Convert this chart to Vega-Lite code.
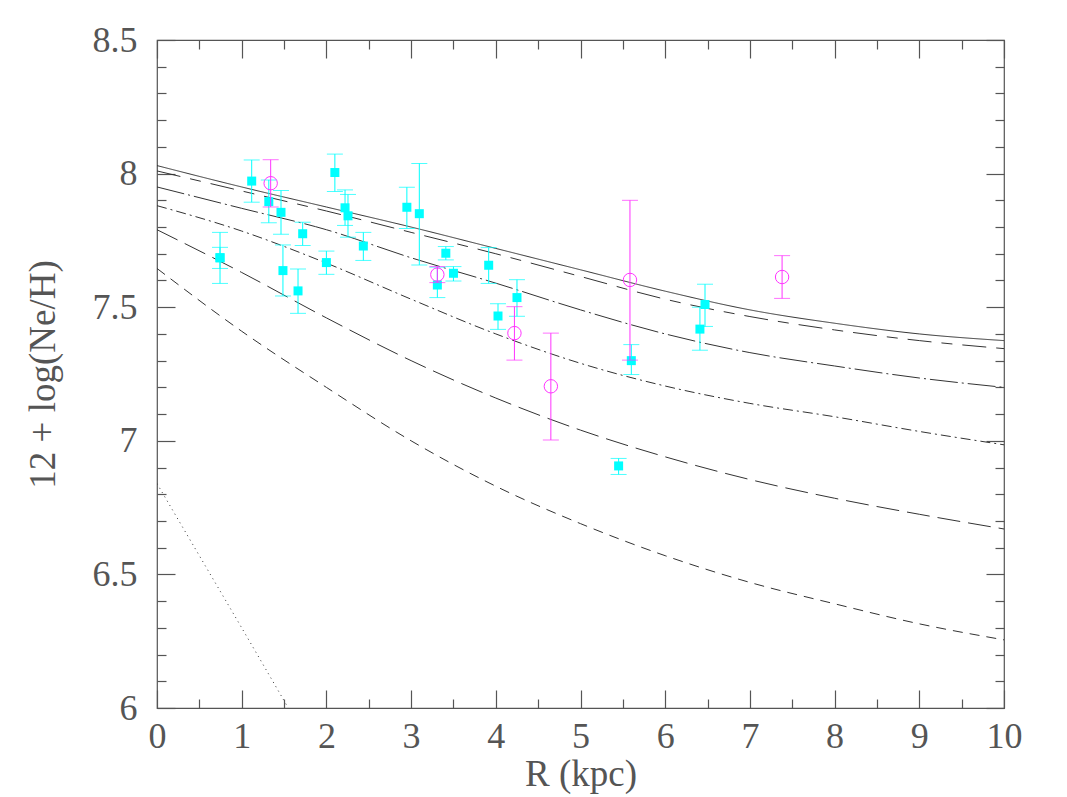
{
  "$schema": "https://vega.github.io/schema/vega-lite/v6.json",
  "width": 847,
  "height": 668,
  "autosize": {"type": "none"},
  "padding": {"left": 157, "top": 40, "right": 63, "bottom": 89},
  "background": "white",
  "config": {
    "view": {"stroke": "#555", "strokeWidth": 1.2},
    "axis": {
      "grid": false,
      "domain": false,
      "tickColor": "#555",
      "tickWidth": 1.2,
      "labelFlush": false,
      "labelOverlap": false,
      "labelFont": "Liberation Serif",
      "labelFontSize": 36,
      "labelColor": "#555",
      "titleFont": "Liberation Serif",
      "titleFontSize": 37,
      "titleFontWeight": "normal",
      "titleColor": "#555"
    }
  },
  "datasets": {
    "curves": [
      {"curve": "a", "R": 0, "v": 8.03}, {"curve": "a", "R": 1, "v": 7.95}, {"curve": "a", "R": 2, "v": 7.875}, {"curve": "a", "R": 3, "v": 7.8}, {"curve": "a", "R": 4, "v": 7.72}, {"curve": "a", "R": 5, "v": 7.64}, {"curve": "a", "R": 6, "v": 7.56}, {"curve": "a", "R": 7, "v": 7.49}, {"curve": "a", "R": 8, "v": 7.44}, {"curve": "a", "R": 9, "v": 7.4}, {"curve": "a", "R": 10, "v": 7.375},
      {"curve": "b", "R": 0, "v": 8.01}, {"curve": "b", "R": 1, "v": 7.935}, {"curve": "b", "R": 2, "v": 7.86}, {"curve": "b", "R": 3, "v": 7.78}, {"curve": "b", "R": 4, "v": 7.7}, {"curve": "b", "R": 5, "v": 7.615}, {"curve": "b", "R": 6, "v": 7.53}, {"curve": "b", "R": 7, "v": 7.465}, {"curve": "b", "R": 8, "v": 7.415}, {"curve": "b", "R": 9, "v": 7.375}, {"curve": "b", "R": 10, "v": 7.345},
      {"curve": "c", "R": 0, "v": 7.95}, {"curve": "c", "R": 1, "v": 7.87}, {"curve": "c", "R": 2, "v": 7.79}, {"curve": "c", "R": 3, "v": 7.685}, {"curve": "c", "R": 4, "v": 7.59}, {"curve": "c", "R": 5, "v": 7.49}, {"curve": "c", "R": 6, "v": 7.4}, {"curve": "c", "R": 7, "v": 7.33}, {"curve": "c", "R": 8, "v": 7.28}, {"curve": "c", "R": 9, "v": 7.235}, {"curve": "c", "R": 10, "v": 7.2},
      {"curve": "d", "R": 0, "v": 7.88}, {"curve": "d", "R": 1, "v": 7.785}, {"curve": "d", "R": 2, "v": 7.665}, {"curve": "d", "R": 3, "v": 7.53}, {"curve": "d", "R": 4, "v": 7.4}, {"curve": "d", "R": 5, "v": 7.29}, {"curve": "d", "R": 6, "v": 7.205}, {"curve": "d", "R": 7, "v": 7.14}, {"curve": "d", "R": 8, "v": 7.09}, {"curve": "d", "R": 9, "v": 7.035}, {"curve": "d", "R": 10, "v": 6.985},
      {"curve": "e", "R": 0, "v": 7.79}, {"curve": "e", "R": 1, "v": 7.63}, {"curve": "e", "R": 2, "v": 7.46}, {"curve": "e", "R": 3, "v": 7.3}, {"curve": "e", "R": 4, "v": 7.16}, {"curve": "e", "R": 5, "v": 7.04}, {"curve": "e", "R": 6, "v": 6.94}, {"curve": "e", "R": 7, "v": 6.855}, {"curve": "e", "R": 8, "v": 6.785}, {"curve": "e", "R": 9, "v": 6.725}, {"curve": "e", "R": 10, "v": 6.67},
      {"curve": "f", "R": 0, "v": 7.645}, {"curve": "f", "R": 1, "v": 7.41}, {"curve": "f", "R": 2, "v": 7.2}, {"curve": "f", "R": 3, "v": 7.0}, {"curve": "f", "R": 4, "v": 6.83}, {"curve": "f", "R": 5, "v": 6.69}, {"curve": "f", "R": 6, "v": 6.57}, {"curve": "f", "R": 7, "v": 6.47}, {"curve": "f", "R": 8, "v": 6.39}, {"curve": "f", "R": 9, "v": 6.315}, {"curve": "f", "R": 10, "v": 6.255},
      {"curve": "g", "R": 0, "v": 6.84}, {"curve": "g", "R": 0.5, "v": 6.57}, {"curve": "g", "R": 1, "v": 6.3}, {"curve": "g", "R": 1.55, "v": 6.0}
    ],
    "cyan": [
      {"R": 0.744, "v": 7.685, "lo": 7.589, "hi": 7.78},
      {"R": 0.744, "v": 7.685, "lo": 7.645, "hi": 7.724},
      {"R": 1.118, "v": 7.972, "lo": 7.893, "hi": 8.051},
      {"R": 1.32, "v": 7.895, "lo": 7.816, "hi": 7.976},
      {"R": 1.464, "v": 7.855, "lo": 7.773, "hi": 7.937},
      {"R": 1.487, "v": 7.637, "lo": 7.542, "hi": 7.733},
      {"R": 1.665, "v": 7.561, "lo": 7.477, "hi": 7.643},
      {"R": 1.72, "v": 7.775, "lo": 7.731, "hi": 7.818},
      {"R": 2.0, "v": 7.667, "lo": 7.623, "hi": 7.71},
      {"R": 2.1, "v": 8.004, "lo": 7.933, "hi": 8.073},
      {"R": 2.22, "v": 7.872, "lo": 7.806, "hi": 7.939},
      {"R": 2.255, "v": 7.842, "lo": 7.762, "hi": 7.922},
      {"R": 2.436, "v": 7.729, "lo": 7.675, "hi": 7.78},
      {"R": 2.95, "v": 7.874, "lo": 7.795, "hi": 7.949},
      {"R": 3.097, "v": 7.85, "lo": 7.658, "hi": 8.038},
      {"R": 3.31, "v": 7.583, "lo": 7.536, "hi": 7.65},
      {"R": 3.41, "v": 7.702, "lo": 7.677, "hi": 7.727},
      {"R": 3.5, "v": 7.627, "lo": 7.598, "hi": 7.652},
      {"R": 3.916, "v": 7.657, "lo": 7.589, "hi": 7.723},
      {"R": 4.026, "v": 7.467, "lo": 7.417, "hi": 7.513},
      {"R": 4.25, "v": 7.536, "lo": 7.466, "hi": 7.603},
      {"R": 5.45, "v": 6.906, "lo": 6.874, "hi": 6.934},
      {"R": 5.6, "v": 7.3, "lo": 7.248, "hi": 7.36},
      {"R": 6.41, "v": 7.418, "lo": 7.339, "hi": 7.5},
      {"R": 6.47, "v": 7.51, "lo": 7.428, "hi": 7.586}
    ],
    "magenta": [
      {"R": 1.342, "v": 7.964, "lo": 7.875, "hi": 8.052},
      {"R": 3.31, "v": 7.622, "lo": 7.592, "hi": 7.652},
      {"R": 4.22, "v": 7.403, "lo": 7.302, "hi": 7.502},
      {"R": 4.65, "v": 7.204, "lo": 7.003, "hi": 7.403},
      {"R": 5.584, "v": 7.602, "lo": 7.302, "hi": 7.9},
      {"R": 7.38, "v": 7.613, "lo": 7.533, "hi": 7.693}
    ]
  },
  "resolve": {"axis": {"x": "independent", "y": "independent"}},
  "layer": [
    {
      "data": {"name": "curves"},
      "mark": {"type": "line", "color": "#333", "strokeWidth": 1, "interpolate": "monotone", "clip": true},
      "encoding": {
        "x": {"field": "R", "type": "quantitative", "scale": {"domain": [0, 10], "nice": false, "zero": false},
              "axis": {"orient": "bottom", "values": [0,1,2,3,4,5,6,7,8,9,10], "tickSize": -18, "labelPadding": 29, "title": "R (kpc)", "titlePadding": 2}},
        "y": {"field": "v", "type": "quantitative", "scale": {"domain": [6, 8.5], "nice": false, "zero": false},
              "axis": {"orient": "left", "values": [6, 6.5, 7, 7.5, 8, 8.5], "tickSize": -18, "labelPadding": 38, "title": "12 + log(Ne/H)", "titlePadding": 30, "labelExpr": "datum.value"}},
        "strokeDash": {"field": "curve", "type": "nominal", "legend": null,
          "scale": {"domain": ["a", "b", "c", "d", "e", "f", "g"],
                    "range": [[1, 0], [24, 10, 11, 10], [28, 4, 2, 4], [10, 4, 2, 4], [23, 8], [10, 7], [1, 4]]}},
        "detail": {"field": "curve"}
      }
    },
    {
      "data": {"name": "cyan"},
      "mark": {"type": "rule", "color": "#00ffff", "strokeWidth": 1},
      "encoding": {
        "x": {"field": "R", "type": "quantitative", "axis": {"orient": "bottom", "values": [0.5,1.5,2.5,3.5,4.5,5.5,6.5,7.5,8.5,9.5], "tickSize": -9, "labels": false, "title": null}},
        "y": {"field": "lo", "type": "quantitative", "axis": {"orient": "left", "values": [6.1,6.2,6.3,6.4,6.6,6.7,6.8,6.9,7.1,7.2,7.3,7.4,7.6,7.7,7.8,7.9,8.1,8.2,8.3,8.4], "tickSize": -9, "labels": false, "title": null}},
        "y2": {"field": "hi"}
      }
    },
    {
      "data": {"name": "cyan"},
      "mark": {"type": "tick", "orient": "horizontal", "color": "#00ffff", "size": 16, "thickness": 1},
      "encoding": {
        "x": {"field": "R", "type": "quantitative", "axis": {"orient": "top", "values": [0,1,2,3,4,5,6,7,8,9,10], "tickSize": -18, "labels": false, "title": null}},
        "y": {"field": "lo", "type": "quantitative", "axis": {"orient": "right", "values": [6, 6.5, 7, 7.5, 8, 8.5], "tickSize": -18, "labels": false, "title": null}}
      }
    },
    {
      "data": {"name": "cyan"},
      "mark": {"type": "tick", "orient": "horizontal", "color": "#00ffff", "size": 16, "thickness": 1},
      "encoding": {
        "x": {"field": "R", "type": "quantitative", "axis": {"orient": "top", "values": [0.5,1.5,2.5,3.5,4.5,5.5,6.5,7.5,8.5,9.5], "tickSize": -9, "labels": false, "title": null}},
        "y": {"field": "hi", "type": "quantitative", "axis": {"orient": "right", "values": [6.1,6.2,6.3,6.4,6.6,6.7,6.8,6.9,7.1,7.2,7.3,7.4,7.6,7.7,7.8,7.9,8.1,8.2,8.3,8.4], "tickSize": -9, "labels": false, "title": null}}
      }
    },
    {
      "data": {"name": "cyan"},
      "mark": {"type": "point", "shape": "square", "filled": true, "color": "#00ffff", "opacity": 1, "size": 81},
      "encoding": {
        "x": {"field": "R", "type": "quantitative", "axis": null},
        "y": {"field": "v", "type": "quantitative", "axis": null}
      }
    },
    {
      "data": {"name": "magenta"},
      "mark": {"type": "rule", "color": "#ff33ff", "strokeWidth": 1},
      "encoding": {
        "x": {"field": "R", "type": "quantitative", "axis": null},
        "y": {"field": "lo", "type": "quantitative", "axis": null},
        "y2": {"field": "hi"}
      }
    },
    {
      "data": {"name": "magenta"},
      "mark": {"type": "tick", "orient": "horizontal", "color": "#ff33ff", "size": 16, "thickness": 1},
      "encoding": {
        "x": {"field": "R", "type": "quantitative", "axis": null},
        "y": {"field": "lo", "type": "quantitative", "axis": null}
      }
    },
    {
      "data": {"name": "magenta"},
      "mark": {"type": "tick", "orient": "horizontal", "color": "#ff33ff", "size": 16, "thickness": 1},
      "encoding": {
        "x": {"field": "R", "type": "quantitative", "axis": null},
        "y": {"field": "hi", "type": "quantitative", "axis": null}
      }
    },
    {
      "data": {"name": "magenta"},
      "mark": {"type": "point", "shape": "circle", "filled": false, "color": "#ff33ff", "opacity": 1, "strokeWidth": 1, "size": 180},
      "encoding": {
        "x": {"field": "R", "type": "quantitative", "axis": null},
        "y": {"field": "v", "type": "quantitative", "axis": null}
      }
    }
  ]
}
